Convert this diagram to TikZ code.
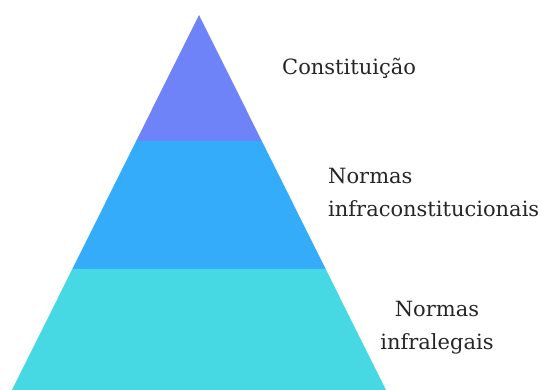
\documentclass[tikz,border=0pt]{standalone}
\usepackage{fontspec}
\setmainfont{DejaVu Serif}
\usetikzlibrary{calc}
\definecolor{topo}{RGB}{111,131,248}
\definecolor{meio}{RGB}{52,172,250}
\definecolor{base}{RGB}{70,216,227}
\definecolor{texto}{RGB}{38,38,38}
\tikzset{rotulo/.style={inner sep=0pt,text=texto,font=\fontsize{21}{33}\selectfont}}
\begin{document}
\begin{tikzpicture}[x=1pt,y=-1pt]
			\useasboundingbox (0,0) rectangle (542,390);
			\coordinate (apice) at (199,15);
			\coordinate (be) at (12,390);
			\coordinate (bd) at (386,390);
			\coordinate (e1) at ($(apice)!0.336!(be)$);
			\coordinate (d1) at ($(apice)!0.336!(bd)$);
			\coordinate (e2) at ($(apice)!0.677!(be)$);
			\coordinate (d2) at ($(apice)!0.677!(bd)$);
			\fill [topo] (apice)--(d1)--(e1)--cycle;
			\fill [meio] (e1)--(d1)--(d2)--(e2)--cycle;
			\fill [base] (e2)--(d2)--(bd)--(be)--cycle;
			\node [rotulo,anchor=base west] (constituicao) at (282,75) {Constituição};
			\node [rotulo,anchor=base west,align=left] (infraconst) at (328,217) {Normas\\infraconstitucionais};
			\node [rotulo,anchor=base,align=center] (infralegais) at (437,350) {Normas\\infralegais};
			\end{tikzpicture}
\end{document}
